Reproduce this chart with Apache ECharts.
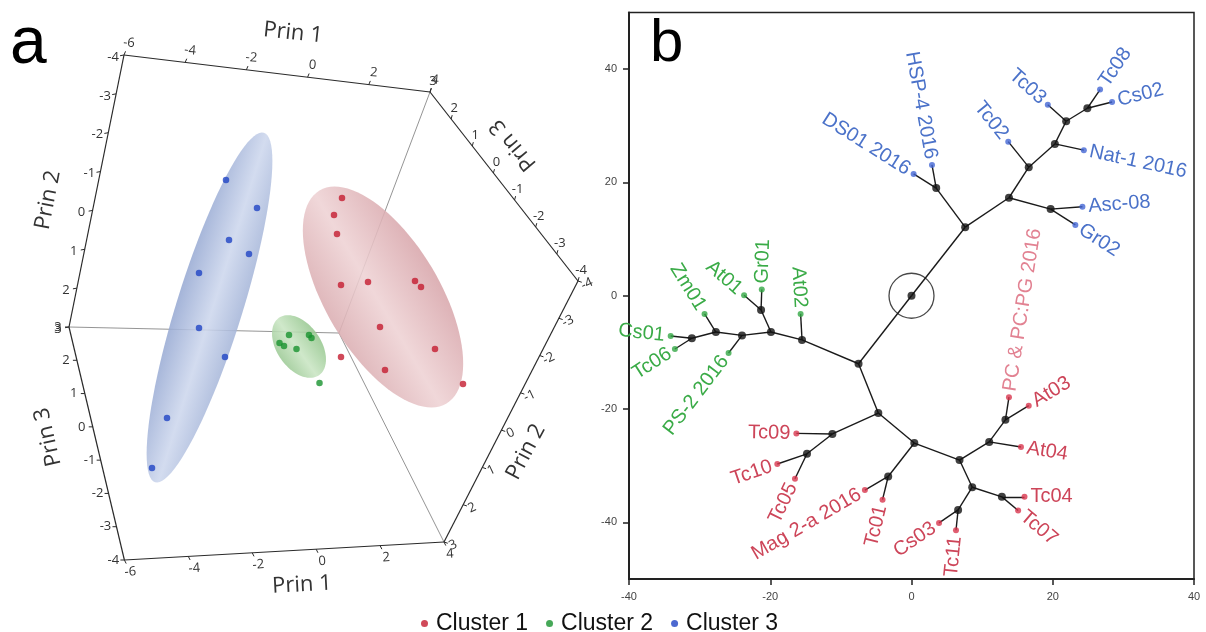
<!DOCTYPE html>
<html><head><meta charset="utf-8">
<script src="https://cdn.jsdelivr.net/npm/echarts@6/dist/echarts.min.js"></script>
<style>html,body{margin:0;padding:0;background:#fff}#c{width:1206px;height:632px}</style>
</head><body><div id="c"></div>
<script>
// ================= Panel a : PCA scores projected onto the drawing plane =================
const cluster1Proj = [[342,198],[334,215],[337,234],[341,285],[368,282],[415,281],[421,287],[380,327],[435,349],[385,370],[463,384],[341,357]];
const cluster2Proj = [[289,335],[309,335],[311.5,338],[279.5,343],[284,346],[296.5,349],[319.5,383]];
const cluster3Proj = [[226,180],[257,208],[229,240],[249,254],[199,273],[199,328],[225,357],[167,418],[152,468]];
// confidence ellipsoids (projected): centre, semi-axes, tilt of major axis (deg)
const ellipseCenters = [[383,297],[299,346.5],[209.5,307.5]];
const ellipseSemiAxes = [[124,57],[35,22],[183,33]];
const ellipseTilt = [59.2,55,-72.7];
// 3-D box corners (projected)
const boxCornerNames = ['T1','T2','R','B2','B1','L','C'];
const boxCornerProj = [[124,55],[430,92],[578,281],[444,542],[124.4,560],[69,327],[339,333]];
// tick labels
const prin1Ticks = [-6,-4,-2,0,2,4];
const prin2Ticks = [-4,-3,-2,-1,0,1,2,3];
const prin3Ticks = [-4,-3,-2,-1,0,1,2,3];
const axisTitles = ['Prin 1','Prin 2','Prin 3','Prin 1','Prin 3','Prin 2'];

// ================= Panel b : tree =================
const leafNames = ['DS01 2016','HSP-4 2016','Tc02','Tc03','Tc08','Cs02','Nat-1 2016','Asc-08','Gr02',
  'Zm01','At01','Gr01','At02','Cs01','Tc06','PS-2 2016',
  'Tc09','Tc10','Tc05','Mag 2-a 2016','Tc01','Cs03','Tc11','Tc07','Tc04','At04','At03','PC & PC:PG 2016'];
const leafX = [0.3,2.9,13.7,19.3,26.7,28.4,24.4,24.2,23.2,
  -29.3,-23.7,-21.2,-15.7,-34.1,-33.5,-25.9,
  -16.3,-19.0,-16.5,-6.6,-4.1,3.9,6.3,15.1,16.0,15.5,16.6,13.8];
const leafY = [21.5,23.1,27.2,33.7,36.4,34.2,25.7,15.7,12.5,
  -3.2,0.1,1.1,-3.2,-7.1,-9.4,-10.1,
  -24.3,-29.7,-32.3,-34.3,-36.0,-40.1,-41.4,-37.9,-35.5,-26.7,-19.4,-17.9];
const leafCluster = [3,3,3,3,3,3,3,3,3, 2,2,2,2,2,2,2, 1,1,1,1,1,1,1,1,1,1,1,1];
const leafParent = ['nB','nB','nE','nG','nH','nH','nF','nD','nD',
  'nO','nM','nM','nK','nP','nP','nN',
  'nR','nS','nS','nU','nU','nAA','nAA','nZ','nZ','nW','nX','nX'];
const nodeIds = ['root','nA','nB','nC','nD','nE','nF','nG','nH','nJ','nK','nL','nM','nN','nO','nP','nQ','nR','nS','nT','nU','nV','nW','nX','nY','nZ','nAA'];
const nodeX = [0,7.6,3.5,13.8,19.7,16.6,20.3,21.9,24.9,-7.5,-15.5,-19.9,-21.3,-24.0,-27.7,-31.1,-4.7,-11.2,-14.8,0.4,-3.3,6.8,11.0,13.3,8.6,12.8,6.6];
const nodeY = [0,12.1,19.0,17.3,15.3,22.7,26.8,30.8,33.1,-12.0,-7.8,-6.4,-2.5,-7.0,-6.4,-7.5,-20.7,-24.4,-27.9,-26.0,-31.9,-29.0,-25.8,-21.9,-33.8,-35.5,-37.8];
const nodeParent = [null,'root','nA','nA','nC','nC','nE','nF','nG','root','nJ','nK','nL','nL','nN','nO','nJ','nQ','nR','nQ','nT','nT','nV','nW','nV','nY','nY'];
const xTicksB = [-40,-20,0,20,40];
const yTicksB = [-40,-20,0,20,40];

// ================= styles =================
const pointColors = {1:'#c41c30', 2:'#18922e', 3:'#1f44c4'};
const leafDotColors = {1:'#d8364e', 2:'#33a845', 3:'#4366d4'};
const leafTextColors = {1:'#cd4559', 2:'#3aab47', 3:'#4b72c9'};
const ellipseStops = [
  ['#d8a6ab','#eed2d4','#dbaeb2'],
  ['#96c78f','#c9e5c3','#9dca96'],
  ['#98aad3','#cdd7ed','#a6b6d9']
];
const FA = '"Open Sans","Noto Sans",sans-serif';
const FB = '"Liberation Sans",Arial,sans-serif';

const chart = echarts.init(document.getElementById('c'));
const corner = {}; boxCornerNames.forEach((n,i)=>corner[n]=boxCornerProj[i]);

const axisEdges = [
  {from:'T1', to:'T2', ticks:prin1Ticks, v0:-6, v1:4, off:[5,-12], rot:-5},
  {from:'T1', to:'L',  ticks:prin2Ticks, v0:-4, v1:3, off:[-11,2], rot:0},
  {from:'L',  to:'B1', ticks:prin3Ticks, v0:3,  v1:-4, off:[-11,0], rot:0},
  {from:'B1', to:'B2', ticks:prin1Ticks, v0:-6, v1:4, off:[6,12], rot:4},
  {from:'T2', to:'R',  ticks:prin3Ticks, v0:3,  v1:-4, off:[3,-11], rot:0},
  {from:'R',  to:'B2', ticks:prin2Ticks, v0:-4, v1:3, off:[9,3], rot:25}
];
const titlePos = [[293,33],[48,200],[48,437],[302,585],[513,145],[526,452]];
const titleRot = [-6,79,103,3,130,62];

const tickRecords = [];
axisEdges.forEach((e,ei)=>e.ticks.forEach(v=>{
  const t = (v-e.v0)/(e.v1-e.v0), s = corner[e.from], d = corner[e.to];
  tickRecords.push([s[0]+t*(d[0]-s[0]), s[1]+t*(d[1]-s[1]), ei, v]);
}));
const boxOuter = [['T1','T2'],['T2','R'],['R','B2'],['B2','B1'],['B1','L'],['L','T1']];
const boxInner = [['C','T2'],['C','L'],['C','B2']];

const nodeIndex = {}; nodeIds.forEach((id,i)=>nodeIndex[id]=i);
const nodePos = id => [nodeX[nodeIndex[id]], nodeY[nodeIndex[id]]];
const treeEdges = [];
nodeIds.forEach((id,i)=>{ if(nodeParent[i]) treeEdges.push({coords:[nodePos(nodeParent[i]),[nodeX[i],nodeY[i]]]}); });
leafNames.forEach((n,i)=>treeEdges.push({coords:[nodePos(leafParent[i]),[leafX[i],leafY[i]]]}));

const option = {
  animation:false,
  backgroundColor:'#fff',
  grid:[
    {left:0, top:0, width:600, height:632, show:false},
    {left:629, top:12.5, width:565, height:566.5, show:true, borderColor:'#222', borderWidth:1.5, backgroundColor:'transparent'}
  ],
  xAxis:[
    {gridIndex:0, type:'value', min:0, max:600, show:false},
    {gridIndex:1, type:'value', min:-40, max:40, interval:20,
     axisLine:{onZero:false, lineStyle:{color:'#222', width:2}},
     axisTick:{length:6, lineStyle:{color:'#222', width:1.5}},
     axisLabel:{fontSize:11, color:'#444', margin:12, fontFamily:FB},
     splitLine:{show:false}}
  ],
  yAxis:[
    {gridIndex:0, type:'value', min:0, max:632, inverse:true, show:false},
    {gridIndex:1, type:'value', min:-50, max:50, interval:10,
     axisLine:{onZero:false, lineStyle:{color:'#222', width:2}},
     axisTick:{length:6, lineStyle:{color:'#222', width:1.5}, customValues:yTicksB},
     axisLabel:{fontSize:11, color:'#444', margin:12, fontFamily:FB, customValues:yTicksB},
     splitLine:{show:false}}
  ],
  legend:{
    data:['Cluster 1','Cluster 2','Cluster 3'], left:416, top:607, icon:'circle',
    itemWidth:7, itemHeight:7, itemGap:18, selectedMode:false,
    textStyle:{fontSize:23, color:'#111', fontFamily:FB, padding:[0,0,0,3]}
  },
  graphic:[
    {type:'text', left:10, top:12, style:{text:'a', font:'66px '+FB, fill:'#000'}},
    {type:'text', left:650, top:14, style:{text:'b', font:'60px '+FB, fill:'#000'}},
    ...axisTitles.map((t,i)=>({type:'text', x:titlePos[i][0], y:titlePos[i][1], rotation:titleRot[i]*Math.PI/180,
      style:{text:t, font:'22px '+FA, fill:'#333', align:'center', verticalAlign:'middle'}}))
  ],
  series:[
    // ---- panel a box
    {type:'lines', coordinateSystem:'cartesian2d', xAxisIndex:0, yAxisIndex:0, z:1, silent:true,
     lineStyle:{color:'#888', width:0.9, opacity:1},
     data: boxInner.map(p=>({coords:[corner[p[0]],corner[p[1]]]}))},
    {type:'custom', xAxisIndex:0, yAxisIndex:0, z:2, silent:true,
     data: ellipseCenters.map(c=>[c[0],c[1]]),
     renderItem(params, api){
       const i = params.dataIndex, c = api.coord(ellipseCenters[i]);
       const sz = api.size([ellipseSemiAxes[i][0], ellipseSemiAxes[i][1]]);
       const a = sz[0], b = sz[1], f = ellipseTilt[i]*Math.PI/180, cf = Math.cos(f), sf = Math.sin(f);
       const pts = [];
       for(let k=0;k<96;k++){const t=k/96*2*Math.PI; pts.push([c[0]+a*Math.cos(t)*cf-b*Math.sin(t)*sf, c[1]+a*Math.cos(t)*sf+b*Math.sin(t)*cf]);}
       const nx=-sf, ny=cf, st=ellipseStops[i];
       return {type:'polygon', shape:{points:pts},
         style:{opacity:0.88, fill:new echarts.graphic.LinearGradient(c[0]-b*nx, c[1]-b*ny, c[0]+b*nx, c[1]+b*ny,
           [{offset:0,color:st[0]},{offset:0.55,color:st[1]},{offset:1,color:st[2]}], true)}};
     }},
    {type:'lines', coordinateSystem:'cartesian2d', xAxisIndex:0, yAxisIndex:0, z:3, silent:true,
     lineStyle:{color:'#2a2a2a', width:1.2, opacity:1},
     data: boxOuter.map(p=>({coords:[corner[p[0]],corner[p[1]]]}))},
    {type:'custom', xAxisIndex:0, yAxisIndex:0, z:3, silent:true,
     data: tickRecords,
     renderItem(params, api){
       const r = tickRecords[params.dataIndex], e = axisEdges[r[2]];
       const p = api.coord([r[0], r[1]]);
       const L = Math.hypot(e.off[0], e.off[1]), ux = e.off[0]/L, uy = e.off[1]/L;
       return {type:'group', children:[
         {type:'line', shape:{x1:p[0], y1:p[1], x2:p[0]+ux*4, y2:p[1]+uy*4}, style:{stroke:'#2a2a2a', lineWidth:1}},
         {type:'text', x:p[0]+e.off[0], y:p[1]+e.off[1], rotation:e.rot*Math.PI/180,
          style:{text:String(r[3]), font:'13px '+FA, fill:'#333', align:'center', verticalAlign:'middle'}}
       ]};
     }},
    {name:'Cluster 1', type:'scatter', xAxisIndex:0, yAxisIndex:0, z:5, symbolSize:6.5, data:cluster1Proj, itemStyle:{color:pointColors[1]}},
    {name:'Cluster 2', type:'scatter', xAxisIndex:0, yAxisIndex:0, z:5, symbolSize:6.5, data:cluster2Proj, itemStyle:{color:pointColors[2]}},
    {name:'Cluster 3', type:'scatter', xAxisIndex:0, yAxisIndex:0, z:5, symbolSize:6.5, data:cluster3Proj, itemStyle:{color:pointColors[3]}},
    // ---- panel b tree
    {type:'lines', coordinateSystem:'cartesian2d', xAxisIndex:1, yAxisIndex:1, z:3, silent:true,
     lineStyle:{color:'#1a1a1a', width:1.4, opacity:1}, data: treeEdges},
    {type:'scatter', xAxisIndex:1, yAxisIndex:1, z:4, silent:true, symbolSize:45,
     data:[nodePos('root')], itemStyle:{color:'rgba(0,0,0,0)', borderColor:'#1a1a1a', borderWidth:1.3}},
    {type:'scatter', xAxisIndex:1, yAxisIndex:1, z:5, silent:true, symbolSize:8,
     data: nodeIds.map((id,i)=>[nodeX[i],nodeY[i]]), itemStyle:{color:'#111'}},
    {type:'scatter', xAxisIndex:1, yAxisIndex:1, z:5, silent:true, symbolSize:6,
     data: leafNames.map((n,i)=>[leafX[i],leafY[i]]), itemStyle:{color:p=>leafDotColors[leafCluster[p.dataIndex]]}},
    {type:'custom', xAxisIndex:1, yAxisIndex:1, z:6, silent:true,
     data: leafNames.map((n,i)=>[leafX[i],leafY[i]]),
     renderItem(params, api){
       const i = params.dataIndex;
       const p = api.coord([leafX[i],leafY[i]]), q = api.coord(nodePos(leafParent[i]));
       const dx = p[0]-q[0], dy = p[1]-q[1], len = Math.hypot(dx,dy), ux = dx/len, uy = dy/len;
       const ang = Math.atan2(-dy, dx), right = Math.cos(ang) >= 0;
       const col = leafNames[i].indexOf('PC &')===0 ? '#e28292' : leafTextColors[leafCluster[i]];
       return {type:'text', x:p[0]+ux*6, y:p[1]+uy*6, rotation: right ? ang : ang-Math.PI,
         style:{text:leafNames[i], font:'20px '+FB, fill:col, align: right?'left':'right', verticalAlign:'middle'}};
     }}
  ]
};
chart.setOption(option);
</script></body></html>
